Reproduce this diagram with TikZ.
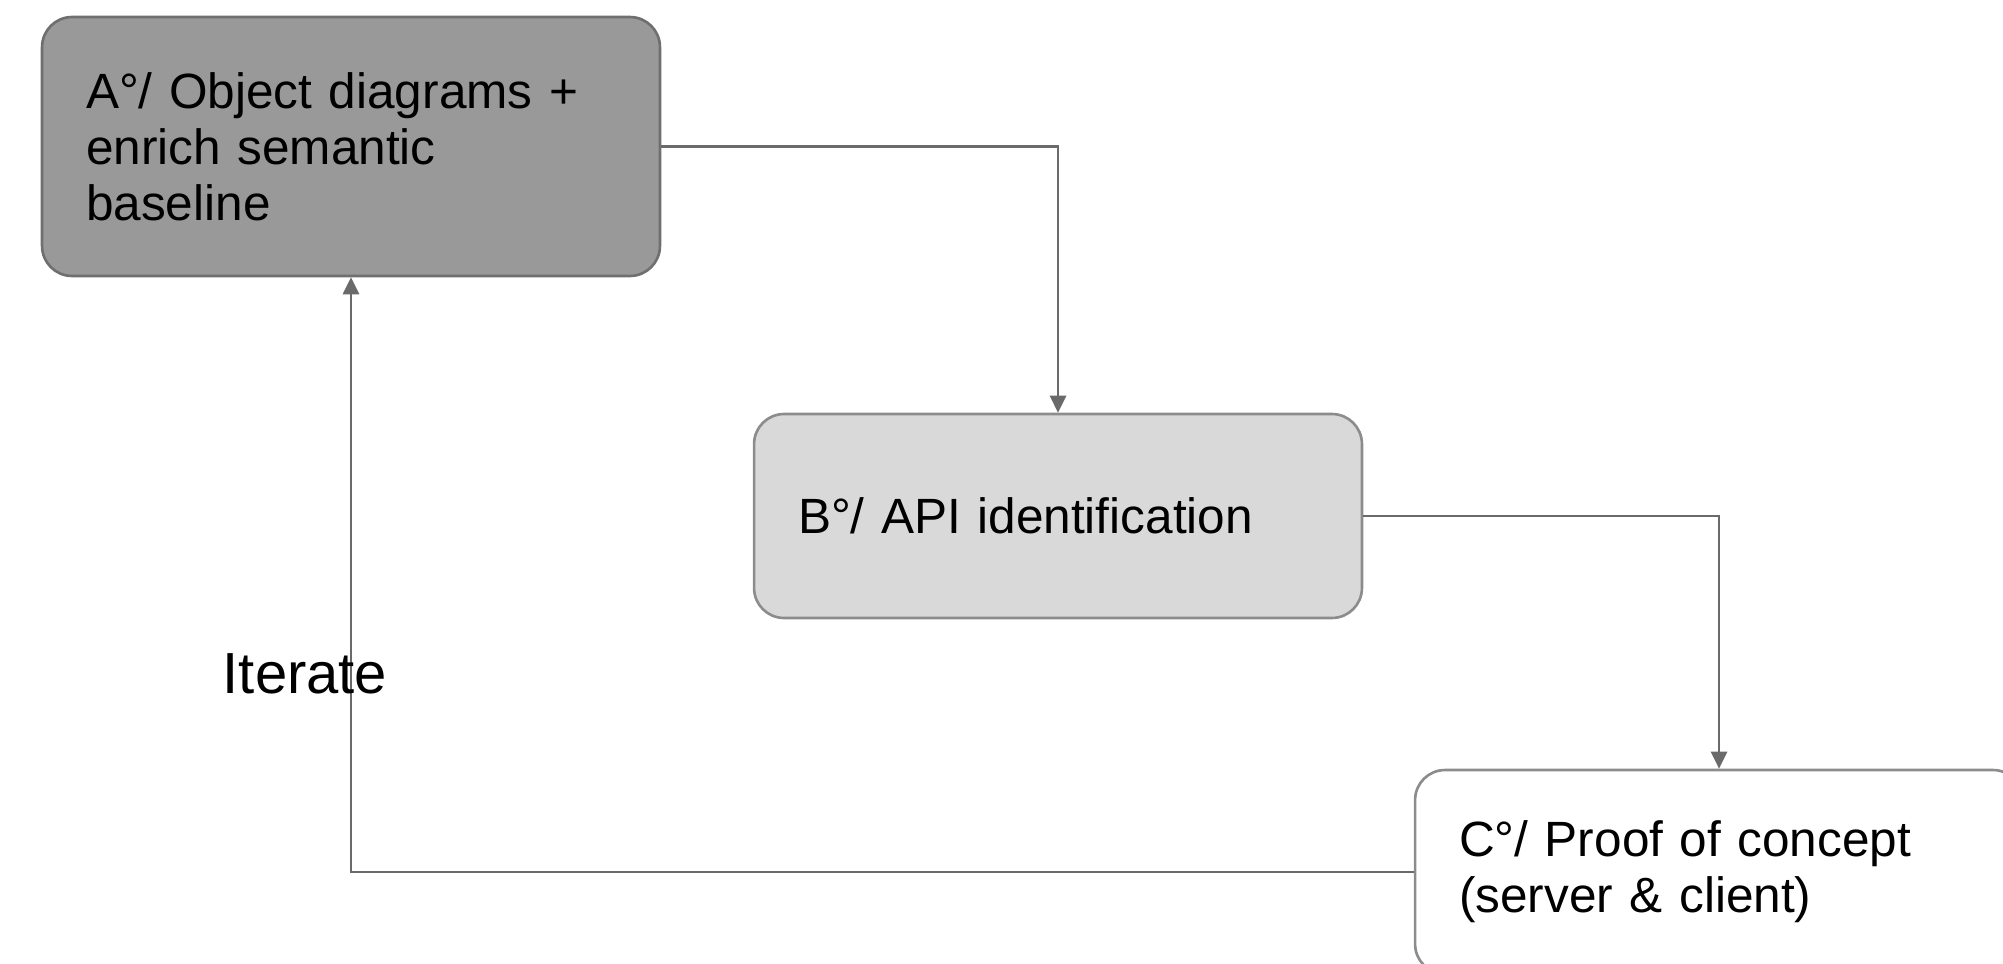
\documentclass[tikz,border=0pt]{standalone}
\usepackage{fontspec}
\setmainfont{Liberation Sans}
\usetikzlibrary{arrows.meta}
\usepackage{xcolor}
\definecolor{darkbox}{HTML}{999999}
\definecolor{lightbox}{HTML}{D9D9D9}
\definecolor{boxline}{HTML}{6F6F6F}
\definecolor{linegray}{HTML}{6A6A6A}

\begin{document}
\begin{tikzpicture}[x=0.02cm,y=-0.02cm,
  stage/.style={draw=boxline, rounded corners=0.6cm, line width=1.5pt, align=left,
    inner xsep=0.88cm, font=\fontsize{28.2}{31.8}\selectfont},
  flow/.style={draw=linegray, line width=1.6pt, -{Triangle[length=0.34cm,width=0.32cm]}}]
  \useasboundingbox (0,0) rectangle (2003,963);

  \node[stage, fill=darkbox, text width=10.6cm, minimum height=5.18cm] (objdiag) at (351,146.5)
    {A°/ Object diagrams +\\enrich semantic\\baseline};
  \node[stage, fill=lightbox, draw=boxline!80, text width=10.4cm, minimum height=4.08cm] (apiid) at (1058,516)
    {B°/ API identification};
  \node[stage, fill=white, draw=boxline!80, text width=10.4cm, minimum height=4.08cm] (poc) at (1719,872)
    {C°/ Proof of concept\\(server \& client)};

  \draw[flow] (objdiag.east) -| (apiid.north);
  \draw[flow] (apiid.east) -| (poc.north);
  \draw[flow] (poc.west) -| (objdiag.south);

  \node[font=\fontsize{33}{36}\selectfont] (iter) at (305,674) {Iterate};
\end{tikzpicture}
\end{document}
